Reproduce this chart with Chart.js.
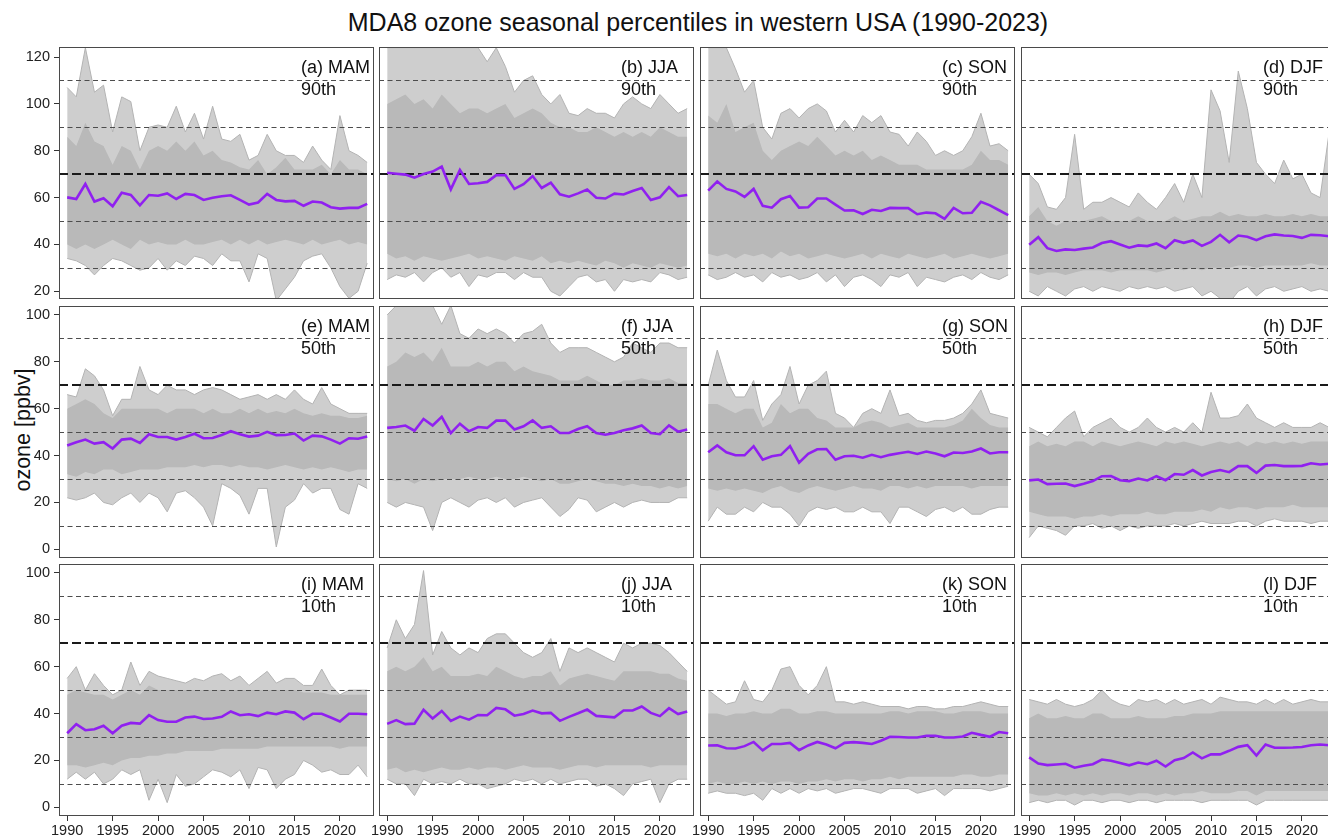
<!DOCTYPE html>
<html>
<head>
<meta charset="utf-8">
<title>MDA8 ozone seasonal percentiles</title>
<script src="https://cdn.jsdelivr.net/npm/chart.js@4.4.1/dist/chart.umd.min.js"></script>
<style>
  html, body { margin: 0; padding: 0; background: #fff; }
  body { position: relative; width: 1328px; height: 838px; overflow: hidden; font-family: "Liberation Sans", Arial, sans-serif; }
  #title { position: absolute; left: 0; top: 8px; width: 1396px; text-align: center; font-size: 25px; line-height: 28px; color: #111; }
  #ylab { position: absolute; left: 23px; top: 430px; transform: translate(-50%, -50%) rotate(-90deg); font-size: 21.5px; color: #111; white-space: nowrap; }
</style>
</head>
<body>
<div id="title">MDA8 ozone seasonal percentiles in western USA (1990-2023)</div>
<div id="ylab">ozone [ppbv]</div>
<script>
const years = [1990,1991,1992,1993,1994,1995,1996,1997,1998,1999,2000,2001,2002,2003,2004,2005,2006,2007,2008,2009,2010,2011,2012,2013,2014,2015,2016,2017,2018,2019,2020,2021,2022,2023];
const xTicks = [1990,1995,2000,2005,2010,2015,2020];
const yTicksTop = [20,40,60,80,100,120];
const yTicksLow = [0,20,40,60,80,100];
const refLevelsTop = [30,50,70,90,110];
const refLevelsLow = [10,30,50,70,90];
const seasonLabels = ["(a) MAM","(b) JJA","(c) SON","(d) DJF","(e) MAM","(f) JJA","(g) SON","(h) DJF","(i) MAM","(j) JJA","(k) SON","(l) DJF"];
const pctLabels = ["90th","50th","10th"];

// purple = median over sites; hi/lo = dense part of the site lines; max/min = outermost site lines
const medA = [60.1,59.4,65.8,58.3,59.7,56.3,62.1,61.1,56.7,61.1, 60.8,61.8,59.4,61.6,61.1,59.0,59.9,60.6,61.0,59.0, 57.0,57.9,61.6,59.0,58.4,58.6,56.5,58.3,57.9,55.9, 55.3,55.6,55.6,57.3];
const hiA = [86,82,92,84,82,74,82,80,72,80, 82,80,84,80,84,78,80,76,75,73, 72,76,70,73,77,72,72,72,74,70, 76,72,72,70];
const loA = [40,38,40,38,40,42,40,38,42,40, 41,40,40,42,40,40,41,42,40,42, 40,42,40,41,42,41,40,42,40,41, 42,40,41,40];
const maxA = [107,103,124,105,108,88,103,101,80,90, 91,90,99,88,96,85,99,85,84,87, 76,78,87,80,78,78,75,82,76,72, 95,80,78,75];
const minA = [34,33,31,27,31,34,33,31,29,30, 34,29,33,31,35,34,31,36,33,33, 24,36,34,16,21,26,33,35,36,30, 22,17,20,32];

const medB = [70.6,70.2,69.8,68.5,70.1,71.1,73.2,63.5,71.8,65.8, 66.1,66.7,69.6,69.6,63.7,65.7,69.2,64.1,66.4,61.4, 60.4,61.8,63.4,59.9,59.6,61.7,61.3,62.8,64.1,59.0, 60.1,64.5,60.6,61.1];
const hiB = [100,102,104,100,102,98,104,100,96,98, 98,96,98,100,94,96,98,96,92,90, 90,88,88,90,88,86,88,86,88,86, 90,88,86,86];
const loB = [36,34,35,33,35,34,33,34,35,36, 34,35,34,33,35,34,33,35,32,33, 32,33,32,31,33,32,30,32,31,30, 32,31,30,31];
const maxB = [124,124,124,124,124,124,124,124,124,124, 124,118,124,116,105,110,112,104,100,104, 96,95,98,96,96,94,100,103,100,98, 104,100,96,98];
const minB = [25,27,26,28,24,28,30,26,28,22, 27,26,28,28,25,28,26,26,20,18, 22,26,27,24,25,20,25,24,25,24, 28,27,25,26];

const medC = [63.0,66.9,63.7,62.6,60.3,63.7,56.5,55.7,59.3,60.7, 55.7,55.9,59.6,59.6,57.0,54.5,54.6,53.0,54.8,54.3, 55.6,55.5,55.5,52.9,53.6,53.3,50.9,55.6,53.3,53.5, 58.2,56.7,54.6,52.5];
const hiC = [95,92,100,88,90,92,80,76,80,82, 84,82,86,82,78,80,78,80,76,78, 76,74,74,74,72,72,72,72,72,74, 80,76,76,74];
const loC = [36,35,36,34,36,35,36,34,37,35, 36,34,35,36,35,34,35,36,34,36, 35,34,36,35,34,35,36,34,35,36, 35,34,35,36];
const maxC = [124,124,124,115,105,110,90,85,96,98, 94,98,100,97,88,93,88,95,92,95, 88,87,82,88,84,78,80,78,80,86, 96,82,83,80];
const minC = [27,25,26,28,26,27,24,28,26,27, 25,26,28,24,27,22,26,27,25,22, 27,26,28,22,26,25,24,26,27,25, 28,26,25,27];

const medD = [39.9,43.1,38.4,37.2,37.9,37.6,38.2,38.7,40.6,41.4, 40.0,38.6,39.6,39.3,40.4,38.4,41.8,40.7,41.7,39.4, 41.1,44.1,40.9,43.8,43.3,41.8,43.5,44.3,43.8,43.6, 42.8,44.1,43.9,43.5];
const hiD = [52,56,50,48,50,50,50,51,52,50, 50,50,52,50,50,50,52,50,51,52, 52,54,52,53,52,52,53,52,52,53, 52,53,52,52];
const loD = [28,27,28,28,27,28,29,29,29,28, 29,29,29,29,28,29,30,29,30,29, 30,30,30,31,31,30,31,31,31,31, 31,32,31,31];
const maxD = [70,66,56,55,60,87,55,58,58,60, 58,56,62,58,55,60,66,58,70,60, 106,97,75,114,98,75,70,66,76,68, 70,62,60,88];
const minD = [20,18,22,20,18,21,22,20,22,21, 20,22,21,22,21,22,20,21,22,18, 20,17,15,20,22,18,21,22,20,21, 22,20,21,20];

const medE = [44.3,45.7,46.8,45.1,45.7,43.0,46.8,47.2,45.4,49.1, 47.9,47.9,46.8,47.9,49.3,47.4,47.5,48.8,50.4,49.1, 48.1,48.5,50.1,48.7,48.8,49.4,46.4,48.5,48.2,46.8, 45.1,47.4,47.2,48.1];
const hiE = [60,62,64,62,58,56,60,60,60,60, 60,58,60,60,60,58,60,58,58,60, 58,60,58,59,58,60,58,57,58,57, 57,56,56,57];
const loE = [32,31,33,32,34,34,32,33,34,34, 34,35,35,35,36,35,36,36,35,36, 35,35,34,35,36,35,34,35,34,35, 34,33,34,34];
const maxE = [66,65,77,74,68,57,64,64,78,68, 66,70,68,68,66,68,69,68,66,64, 65,66,64,66,64,68,64,62,69,62, 60,58,58,58];
const minE = [22,21,22,24,20,19,22,24,20,24, 22,16,24,25,22,18,10,28,26,23, 15,26,26,1,18,21,28,24,26,26, 17,15,28,26];

const medF = [51.8,52.2,52.8,50.6,55.6,52.8,56.5,49.6,53.6,50.4, 52.2,51.8,54.9,54.9,51.1,52.5,55.0,51.8,52.5,49.6, 49.6,51.3,52.5,49.6,48.9,49.6,50.8,51.6,52.8,49.6, 49.1,52.9,50.2,51.1];
const hiF = [78,80,84,82,84,80,86,78,78,78, 80,78,80,80,76,78,76,75,74,72, 72,72,74,72,70,70,72,72,73,72, 72,73,71,71];
const loF = [30,29,30,28,30,29,30,30,30,31, 30,30,31,30,30,31,30,29,30,28, 28,29,30,29,28,28,27,28,27,27, 26,27,26,27];
const maxF = [100,104,104,104,104,104,96,104,92,90, 94,92,94,92,88,92,93,96,88,84, 86,86,86,84,82,80,82,88,86,84, 88,88,86,86];
const minF = [20,18,20,19,18,8,20,22,20,18, 21,22,20,22,18,20,21,22,18,14, 17,22,21,16,18,20,18,20,21,20, 20,20,22,22];

const medG = [41.4,44.3,41.4,40.1,40.1,44.0,38.2,39.7,40.3,44.0, 37.0,40.7,42.7,42.8,38.2,39.7,39.9,39.1,40.3,39.3, 40.3,41.0,41.6,40.7,41.7,40.9,39.7,41.3,41.1,41.7, 43.0,40.9,41.4,41.4];
const hiG = [62,62,60,58,60,60,52,54,62,58, 60,60,56,55,52,52,52,54,55,54, 52,53,54,52,52,52,52,53,55,60, 56,53,52,52];
const loG = [26,25,26,25,26,25,24,26,27,25, 24,26,27,26,25,26,27,26,26,25, 27,27,26,27,26,27,27,27,27,26, 27,27,27,27];
const maxG = [70,85,72,65,65,72,55,62,66,78, 62,70,72,76,58,56,52,58,60,58, 68,57,58,55,54,55,55,56,58,62, 68,58,57,56];
const minG = [12,18,15,15,18,16,20,18,18,15, 10,16,18,17,18,16,16,18,16,16, 11,18,18,16,14,17,18,16,18,15, 15,17,18,18];

const medH = [29.4,29.8,27.8,28.0,28.1,27.0,28.0,29.1,31.2,31.3, 29.5,29.1,30.2,29.4,31.2,29.5,32.1,31.8,33.8,31.5, 33.0,33.8,32.9,35.5,35.5,32.6,35.7,36.0,35.5,35.5, 35.6,36.7,36.2,36.5];
const hiH = [44,46,44,45,44,46,46,44,46,45, 44,45,46,45,44,46,45,46,45,44, 45,46,45,46,44,46,45,46,45,46, 45,46,46,46];
const loH = [16,15,14,14,14,13,14,14,15,14, 15,15,15,16,15,15,16,16,16,17, 16,18,17,18,18,17,18,18,18,19, 18,18,18,18];
const maxH = [52,50,48,52,56,59,48,52,54,56, 52,50,52,56,52,50,52,50,54,50, 67,56,56,57,62,56,54,52,54,52, 52,52,54,52];
const minH = [5,10,9,8,6,10,10,11,9,10, 8,10,9,10,10,10,11,10,11,12, 11,11,11,12,12,10,12,13,12,12, 12,11,12,12];

const medI = [31.6,35.5,32.9,33.3,34.8,31.6,34.8,36.0,35.7,39.3, 37.2,36.5,36.5,38.3,38.7,37.7,37.9,38.6,40.9,39.3, 39.7,38.9,40.4,39.7,40.9,40.4,37.6,39.9,39.9,38.3, 36.6,39.9,39.9,39.7];
const hiI = [48,50,49,48,48,46,48,50,48,52, 50,50,50,50,50,50,50,50,50,50, 50,50,50,50,50,50,49,49,49,48, 48,48,48,48];
const loI = [18,18,17,18,19,18,20,21,21,22, 22,23,23,24,24,24,24,25,25,25, 25,25,26,26,26,26,26,26,26,26, 25,26,26,26];
const maxI = [55,60,50,57,52,48,50,62,52,58, 56,55,54,53,55,54,56,57,54,56, 52,55,58,53,55,55,52,52,59,52, 48,50,50,50];
const minI = [12,15,12,15,10,12,16,14,16,3, 12,2,14,9,10,13,16,15,13,16, 8,17,16,8,12,14,20,18,15,16, 14,14,18,13];

const medJ = [35.6,37.2,35.5,35.7,41.6,37.9,41.1,36.9,38.7,37.4, 39.4,39.3,42.4,41.8,39.1,39.8,41.3,40.1,40.3,36.9, 38.6,40.1,41.7,39.0,38.7,38.4,41.3,41.3,43.0,40.3, 38.9,42.3,39.8,40.9];
const hiJ = [58,60,58,60,64,58,60,56,56,56, 57,56,60,58,56,55,56,56,58,52, 55,56,57,56,55,54,58,58,58,58, 57,57,55,54];
const loJ = [16,17,15,16,15,16,17,16,16,17, 16,17,17,16,17,18,17,17,17,16, 17,18,18,17,18,18,18,18,18,17, 18,18,18,18];
const maxJ = [68,80,72,78,101,65,75,68,65,68, 66,72,74,74,70,66,64,66,72,58, 68,66,68,66,64,62,70,68,70,70, 69,66,62,58];
const minJ = [12,10,10,5,12,10,11,10,12,10, 10,8,9,10,12,11,12,10,12,10, 11,12,12,9,10,8,5,10,11,12, 2,10,12,12];

const medK = [26.4,26.5,25.2,25.1,26.1,27.9,24.3,27.0,27.0,27.5, 24.4,26.4,27.9,26.8,25.2,27.5,27.8,27.5,27.0,28.4, 30.1,30.0,29.8,29.8,30.5,30.5,29.8,29.8,30.2,31.8, 30.9,30.1,32.1,31.6];
const hiK = [40,40,39,40,40,41,40,40,42,42, 40,40,41,41,40,40,40,40,40,40, 41,41,40,41,41,41,40,40,41,41, 41,40,40,40];
const loK = [10,11,10,10,11,10,11,10,11,11, 10,11,11,12,11,12,12,11,12,12, 13,12,13,13,13,13,13,13,14,14, 13,13,14,14];
const maxK = [50,47,44,45,54,46,45,50,59,60, 52,48,52,60,45,45,44,45,44,43, 43,43,42,43,43,42,42,43,43,44, 45,44,43,43];
const minK = [6,7,6,6,5,6,3,8,6,8, 6,8,7,8,6,7,8,8,7,6, 8,8,8,6,7,8,5,8,8,8, 8,7,8,9];

const medL = [21.3,18.7,18.0,18.3,18.6,16.9,17.7,18.4,20.4,19.9, 18.9,17.9,19.1,18.4,19.9,17.4,20.1,21.0,23.4,20.9, 22.6,22.6,24.1,25.8,26.5,22.1,26.8,25.4,25.4,25.5, 25.7,26.5,26.8,26.5];
const hiL = [38,40,38,38,39,38,38,40,40,38, 38,38,39,38,38,38,39,39,40,40, 40,41,41,41,41,41,41,41,41,41, 41,41,41,41];
const loL = [6,5,5,6,5,6,5,6,5,6, 6,5,6,6,5,6,5,6,6,7, 6,6,6,7,7,5,7,7,7,7, 7,7,7,7];
const maxL = [46,45,44,46,44,43,44,46,50,46, 44,43,46,45,46,44,46,44,45,46, 44,47,46,45,45,44,46,44,46,44, 45,46,45,45];
const minL = [2,3,2,3,3,1,3,3,2,3, 3,2,3,3,2,3,3,3,3,2, 3,3,3,3,3,1,3,3,3,3, 3,3,3,3];

const panelSeries = [
  [medA,hiA,loA,maxA,minA],[medB,hiB,loB,maxB,minB],[medC,hiC,loC,maxC,minC],[medD,hiD,loD,maxD,minD],
  [medE,hiE,loE,maxE,minE],[medF,hiF,loF,maxF,minF],[medG,hiG,loG,maxG,minG],[medH,hiH,loH,maxH,minH],
  [medI,hiI,loI,maxI,minI],[medJ,hiJ,loJ,maxJ,minJ],[medK,hiK,loK,maxK,minK],[medL,hiL,loL,maxL,minL]
];

// layout (pixels)
const COL_LEFT = [59, 379, 700, 1021];
const ROW_TOP = [47, 306, 564];
const PANEL_W = 315, PANEL_H = 252;
const Y_AXIS_W = 59, X_AXIS_H = 21, PAD = 20;
const X_MIN = 1989.1, X_MAX = 2023.75;
const Y_RANGE = [[16.7, 124.3], [-3.7, 103.8], [-3.7, 103.8]];

const FONT = '"Liberation Sans", Arial, sans-serif';
const PURPLE = '#9020f0';
const GREY = '#b3b3b3';
const DENSE = '#b9b9b9';
const SPARSE = 'rgba(179,179,179,0.65)';

const panelDecor = {
    id: 'panelDecor',
    beforeDatasetDraw(chart, args, o) {
        if (args.index !== 0) return;   // reference lines go under the purple line
        const { ctx, chartArea: a, scales: { y } } = chart;
        ctx.save();
        ctx.beginPath();
        ctx.rect(a.left, a.top, a.right - a.left, a.bottom - a.top);
        ctx.clip();
        o.levels.forEach(v => {
            const thick = v === 70;
            let py = Math.round(y.getPixelForValue(v));
            if (!thick) py += 0.5;
            ctx.setLineDash(thick ? [9, 4] : [5, 3.5]);
            ctx.lineWidth = thick ? 2 : 1;
            ctx.strokeStyle = thick ? '#1a1a1a' : '#4d4d4d';
            ctx.beginPath();
            ctx.moveTo(a.left, py);
            ctx.lineTo(a.right, py);
            ctx.stroke();
        });
        ctx.restore();
    },
    afterDraw(chart, args, o) {
        const { ctx, chartArea: a } = chart;
        ctx.save();
        ctx.strokeStyle = '#4a4a4a';
        ctx.lineWidth = 1;
        ctx.strokeRect(a.left + 0.5, a.top + 0.5, a.right - a.left - 1, a.bottom - a.top - 1);
        ctx.fillStyle = '#111';
        ctx.font = '18px ' + FONT;
        ctx.textAlign = 'left';
        ctx.textBaseline = 'middle';
        ctx.fillText(o.label, a.left + 242, a.top + 21);
        ctx.fillText(o.pct, a.left + 242, a.top + 43);
        ctx.restore();
    }
};

function zeroPad(s) {
    s.paddingLeft = 0; s.paddingRight = 0; s.paddingTop = 0; s.paddingBottom = 0;
}

function toPoints(arr) {
    return years.map((yr, i) => ({ x: yr, y: arr[i] }));
}

panelSeries.forEach((ser, k) => {
    const row = Math.floor(k / 4), col = k % 4;
    const isLeft = col === 0, isBottom = row === 2;
    const yW = isLeft ? Y_AXIS_W : 0;
    const xH = isBottom ? X_AXIS_H : 0;
    const w = PAD + yW + PANEL_W + PAD;
    const h = PAD + PANEL_H + xH + PAD;

    const cv = document.createElement('canvas');
    cv.width = w; cv.height = h;
    cv.style.cssText = `position:absolute;left:${COL_LEFT[col] - yW - PAD}px;top:${ROW_TOP[row] - PAD}px;width:${w}px;height:${h}px;`;
    document.body.appendChild(cv);

    const [med, hi, lo, mx, mn] = ser;
    const yTicks = row === 0 ? yTicksTop : yTicksLow;

    new Chart(cv, {
        type: 'line',
        data: {
            datasets: [
                { data: toPoints(med), borderColor: PURPLE, borderWidth: 2.6, fill: false },
                { data: toPoints(hi), borderColor: 'rgba(0,0,0,0)', borderWidth: 0, backgroundColor: DENSE, fill: '+1' },
                { data: toPoints(lo), borderColor: 'rgba(0,0,0,0)', borderWidth: 0, fill: false },
                { data: toPoints(mx), borderColor: GREY, borderWidth: 1, backgroundColor: SPARSE, fill: '+1' },
                { data: toPoints(mn), borderColor: GREY, borderWidth: 1, fill: false }
            ]
        },
        options: {
            responsive: false,
            animation: false,
            devicePixelRatio: 1,
            layout: { padding: { left: PAD, right: PAD, top: PAD, bottom: PAD } },
            elements: { point: { radius: 0 }, line: { tension: 0 } },
            plugins: {
                legend: { display: false },
                tooltip: { enabled: false },
                panelDecor: {
                    label: seasonLabels[k],
                    pct: pctLabels[row],
                    levels: row === 0 ? refLevelsTop : refLevelsLow
                }
            },
            scales: {
                x: {
                    type: 'linear',
                    min: X_MIN,
                    max: X_MAX,
                    display: isBottom,
                    afterBuildTicks: s => { s.ticks = xTicks.map(v => ({ value: v })); },
                    afterFit: s => { if (isBottom) s.height = X_AXIS_H; zeroPad(s); },
                    grid: { drawOnChartArea: false, drawTicks: true, tickLength: 5, color: '#333' },
                    border: { display: false },
                    ticks: { color: '#222', font: { size: 14.5, family: FONT }, padding: 1, maxRotation: 0, autoSkip: false, callback: v => String(v) }
                },
                y: {
                    type: 'linear',
                    min: Y_RANGE[row][0],
                    max: Y_RANGE[row][1],
                    display: isLeft,
                    afterBuildTicks: s => { s.ticks = yTicks.map(v => ({ value: v })); },
                    afterFit: s => { if (isLeft) s.width = Y_AXIS_W; zeroPad(s); },
                    grid: { drawOnChartArea: false, drawTicks: true, tickLength: 5, color: '#333' },
                    border: { display: false },
                    ticks: { color: '#222', font: { size: 14.5, family: FONT }, padding: 4, autoSkip: false, callback: v => String(v) }
                }
            }
        },
        plugins: [panelDecor]
    });
});
</script>
</body>
</html>
